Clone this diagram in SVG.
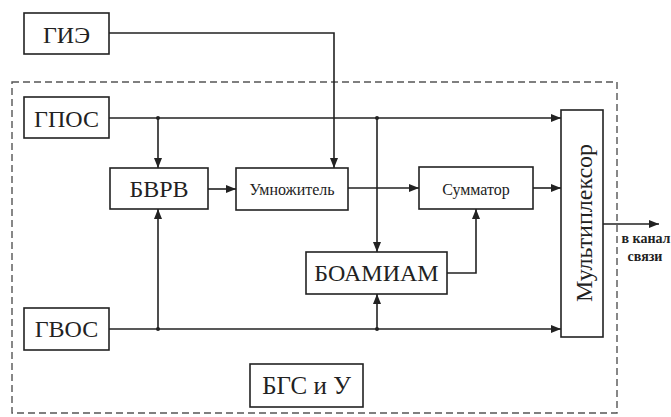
<svg xmlns="http://www.w3.org/2000/svg" width="671" height="417" viewBox="0 0 671 417">
<style>
.box{fill:#fff;stroke:#222;stroke-width:1.6}
.t{font-family:'Liberation Serif','Times New Roman','DejaVu Serif',serif;fill:#222;text-anchor:middle}
.big{font-size:24px}
.sm{font-size:16px}
.ln{fill:none;stroke:#222;stroke-width:1.6}
.dash{fill:none;stroke:#555;stroke-width:1.4;stroke-dasharray:7,4}
</style>
<defs>
<marker id="ar" viewBox="0 0 10 8" refX="10" refY="4" markerWidth="10" markerHeight="8" markerUnits="userSpaceOnUse" orient="auto"><path d="M0,0 L10,4 L0,8 z" fill="#222"/></marker>
</defs>
<rect class="dash" x="12" y="82" width="605" height="331"/>
<g id="connectors">
<path class="ln" d="M109,33 H334 V168" marker-end="url(#ar)"/>
<path class="ln" d="M109,118 H561" marker-end="url(#ar)"/>
<path class="ln" d="M158,118 V168" marker-end="url(#ar)"/>
<path class="ln" d="M377,118 V252" marker-end="url(#ar)"/>
<path class="ln" d="M208,189 H236" marker-end="url(#ar)"/>
<path class="ln" d="M348,188 H419" marker-end="url(#ar)"/>
<path class="ln" d="M533,188 H561" marker-end="url(#ar)"/>
<path class="ln" d="M447,273 H476 V209" marker-end="url(#ar)"/>
<path class="ln" d="M109,329 H561" marker-end="url(#ar)"/>
<path class="ln" d="M158,329 V209" marker-end="url(#ar)"/>
<path class="ln" d="M377,329 V294" marker-end="url(#ar)"/>
<path class="ln" d="M603,224 H659" marker-end="url(#ar)"/>
<circle cx="158" cy="118" r="2" fill="#222"/>
<circle cx="377" cy="118" r="2" fill="#222"/>
<circle cx="158" cy="329" r="2" fill="#222"/>
<circle cx="377" cy="329" r="2" fill="#222"/>
</g>
<g id="gie"><rect class="box" x="24" y="13" width="85" height="41"/><text class="t big" x="66.5" y="43">ГИЭ</text></g>
<g id="gpos"><rect class="box" x="24" y="97" width="85" height="41"/><text class="t big" x="66.5" y="127">ГПОС</text></g>
<g id="gvos"><rect class="box" x="24" y="308" width="85" height="42"/><text class="t big" x="66.5" y="337">ГВОС</text></g>
<g id="bvrv"><rect class="box" x="110" y="168" width="98" height="41"/><text class="t big" x="159" y="197">БВРВ</text></g>
<g id="umn"><rect class="box" x="236" y="168" width="112" height="42"/><text class="t sm" x="292" y="195">Умножитель</text></g>
<g id="summ"><rect class="box" x="419" y="167" width="114" height="42"/><text class="t sm" x="476" y="195">Сумматор</text></g>
<g id="boam"><rect class="box" x="306" y="252" width="141" height="42"/><text class="t big" x="376.5" y="281">БОАМИАМ</text></g>
<g id="mux"><rect class="box" x="561" y="110" width="42" height="227"/><text class="t big" transform="translate(592,223) rotate(-90)">Мультиплексор</text></g>
<g id="bgs"><rect class="box" x="250" y="364" width="113" height="43"/><text class="t" style="font-size:25px" x="306.5" y="394">БГС и У</text></g>
<g id="out"><text class="t" style="font-size:14px;font-weight:bold" x="646" y="243">в канал</text><text class="t" style="font-size:14px;font-weight:bold" x="645" y="261">связи</text></g>
</svg>
